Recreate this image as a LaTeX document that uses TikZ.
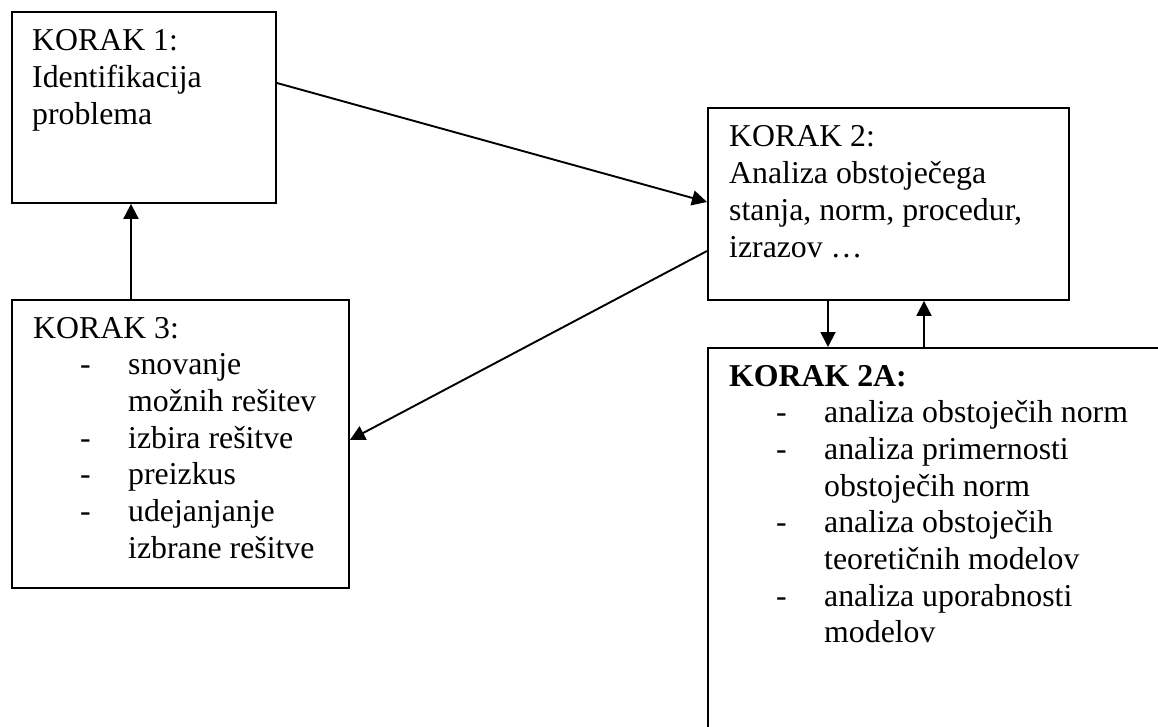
\documentclass[tikz,border=0pt]{standalone}
\usepackage{fontspec}
\setmainfont{Liberation Serif}
\usetikzlibrary{arrows.meta,calc}

% dash bullet and hanging continuation for the step lists
\newcommand\stepdash{\hspace*{47pt}\makebox[48pt][l]{-}}
\newcommand\stepcont{\hspace*{95pt}}

\begin{document}
\begin{tikzpicture}[x=1pt,y=-1pt,
  stepbox/.style={draw,line width=1.9pt,rectangle,inner sep=0pt,anchor=north west},
  steptext/.style={anchor=base west,inner sep=0pt,
    font=\fontsize{31.8}{36.7}\selectfont},
  link/.style={line width=1.9pt,-{Triangle[length=15pt,width=15pt]}}]

\useasboundingbox (0,0) rectangle (1158,727);
\fill[white] (0,0) rectangle (1158,727);
\clip (0,0) rectangle (1158,727);

% boxes
\node[stepbox,minimum width=264pt,minimum height=191pt] (b1) at (11,11) {};
\node[stepbox,minimum width=361pt,minimum height=192pt] (b2) at (707,107) {};
\node[stepbox,minimum width=337pt,minimum height=288pt] (b3) at (11,299) {};
\node[stepbox,minimum width=520pt,minimum height=460pt] (b2a) at (707,347) {};

% texts
\node[steptext] (t1) at (32,51) {\begin{tabular}[t]{@{}l@{}}
KORAK 1:\\
Identifikacija\\
problema
\end{tabular}};

\node[steptext] (t2) at (729,147) {\begin{tabular}[t]{@{}l@{}}
KORAK 2:\\
Analiza obstoječega\\
stanja, norm, procedur,\\
izrazov …
\end{tabular}};

\node[steptext] (t3) at (33,338) {\begin{tabular}[t]{@{}l@{}}
KORAK 3:\\
\stepdash snovanje\\
\stepcont možnih rešitev\\
\stepdash izbira rešitve\\
\stepdash preizkus\\
\stepdash udejanjanje\\
\stepcont izbrane rešitve
\end{tabular}};

\node[steptext] (t2a) at (729,386) {\begin{tabular}[t]{@{}l@{}}
\textbf{KORAK 2A:}\\
\stepdash analiza obstoječih norm\\
\stepdash analiza primernosti\\
\stepcont obstoječih norm\\
\stepdash analiza obstoječih\\
\stepcont teoretičnih modelov\\
\stepdash analiza uporabnosti\\
\stepcont modelov
\end{tabular}};

% connectors
\draw[link] ($(b1.north east)+(0,72)$) -- ($(b2.north west)+(0,95)$);
\draw[link] ($(b2.north west)+(0,144)$) -- ($(b3.north east)+(0,141)$);
\draw[link] ($(b3.north west)+(120,0)$) -- ($(b1.south west)+(120,0)$);
\draw[link] ($(b2.south west)+(121,0)$) -- ($(b2a.north west)+(121,0)$);
\draw[link] ($(b2a.north west)+(217,0)$) -- ($(b2.south west)+(217,0)$);
\end{tikzpicture}
\end{document}
